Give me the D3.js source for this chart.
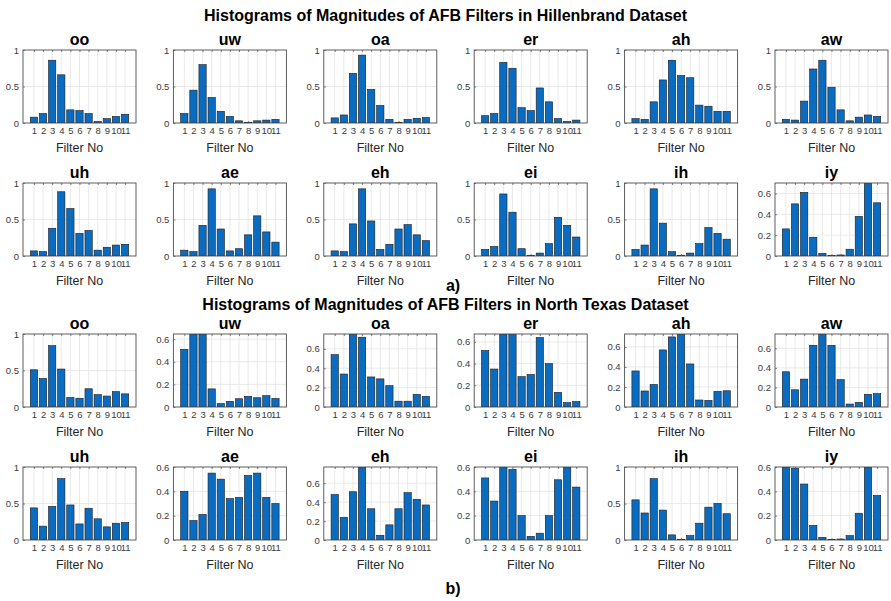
<!DOCTYPE html>
<html>
<head>
<meta charset="utf-8">
<script src="https://cdn.jsdelivr.net/npm/d3@7"></script>
<style>
  html, body { margin: 0; padding: 0; background: #fff; }
  svg { display: block; }
  text { font-family: "Liberation Sans", Arial, Helvetica, sans-serif; }
</style>
</head>
<body>
<svg id="chart" width="891" height="601"></svg>
<script>
// Vowel classes, one panel each (2 rows x 6 columns per dataset)
const vowels = ["oo", "uw", "oa", "er", "ah", "aw", "uh", "ae", "eh", "ei", "ih", "iy"];
const filterNos = [1, 2, 3, 4, 5, 6, 7, 8, 9, 10, 11];

// Normalised magnitude per AFB filter, Hillenbrand dataset
const hillenbrand = [
  [0.08, 0.13, 0.86, 0.66, 0.18, 0.17, 0.13, 0.02, 0.06, 0.09, 0.12], // oo
  [0.13, 0.45, 0.80, 0.35, 0.16, 0.09, 0.03, 0.01, 0.03, 0.04, 0.05], // uw
  [0.07, 0.11, 0.68, 0.93, 0.46, 0.24, 0.05, 0.01, 0.05, 0.065, 0.075], // oa
  [0.10, 0.13, 0.83, 0.75, 0.21, 0.17, 0.48, 0.29, 0.06, 0.02, 0.04], // er
  [0.06, 0.05, 0.29, 0.59, 0.86, 0.65, 0.62, 0.245, 0.23, 0.16, 0.16], // ah
  [0.05, 0.04, 0.30, 0.74, 0.86, 0.49, 0.18, 0.03, 0.08, 0.11, 0.09], // aw
  [0.07, 0.06, 0.38, 0.88, 0.65, 0.31, 0.35, 0.08, 0.12, 0.15, 0.16], // uh
  [0.08, 0.06, 0.42, 0.92, 0.37, 0.07, 0.10, 0.29, 0.55, 0.33, 0.19], // ae
  [0.07, 0.06, 0.44, 0.92, 0.48, 0.09, 0.16, 0.37, 0.43, 0.29, 0.21], // eh
  [0.09, 0.13, 0.85, 0.60, 0.10, 0.01, 0.04, 0.17, 0.53, 0.42, 0.26], // ei
  [0.09, 0.15, 0.92, 0.45, 0.06, 0.01, 0.04, 0.17, 0.39, 0.31, 0.23], // ih
  [0.26, 0.50, 0.61, 0.18, 0.026, 0.003, 0.01, 0.065, 0.38, 0.70, 0.51] // iy
];

// Normalised magnitude per AFB filter, North Texas dataset
const northTexas = [
  [0.51, 0.39, 0.84, 0.52, 0.13, 0.12, 0.25, 0.17, 0.15, 0.21, 0.18], // oo
  [0.51, 0.645, 0.645, 0.16, 0.03, 0.05, 0.073, 0.094, 0.082, 0.10, 0.076], // uw
  [0.54, 0.34, 0.753, 0.72, 0.31, 0.29, 0.22, 0.06, 0.06, 0.13, 0.11], // oa
  [0.52, 0.35, 0.673, 0.673, 0.28, 0.30, 0.64, 0.40, 0.135, 0.04, 0.05], // er
  [0.36, 0.16, 0.225, 0.57, 0.70, 0.729, 0.43, 0.07, 0.066, 0.156, 0.162], // ah
  [0.36, 0.176, 0.285, 0.63, 0.746, 0.63, 0.28, 0.03, 0.047, 0.13, 0.136], // aw
  [0.44, 0.19, 0.46, 0.84, 0.48, 0.22, 0.435, 0.29, 0.18, 0.23, 0.24], // uh
  [0.40, 0.16, 0.21, 0.55, 0.50, 0.34, 0.35, 0.53, 0.55, 0.35, 0.30], // ae
  [0.48, 0.24, 0.51, 0.771, 0.33, 0.05, 0.16, 0.33, 0.50, 0.43, 0.37], // eh
  [0.51, 0.32, 0.60, 0.58, 0.20, 0.03, 0.056, 0.20, 0.495, 0.60, 0.435], // ei
  [0.55, 0.37, 0.84, 0.41, 0.07, 0.01, 0.06, 0.23, 0.45, 0.50, 0.36], // ih
  [0.60, 0.59, 0.46, 0.12, 0.022, 0.005, 0.008, 0.036, 0.22, 0.60, 0.366] // iy
];

// Upper y-limit of every panel
const hillenbrandYMax = [1, 1, 1, 1, 1, 1, 1, 1, 1, 1, 1, 0.7];
const northTexasYMax = [1, 0.645, 0.753, 0.673, 0.729, 0.746, 1, 0.6, 0.771, 0.6, 1, 0.6];

// Y tick sets
const yTicksWide = [0, 0.5, 1];
const yTicksNarrow = [0, 0.2, 0.4, 0.6];

const titles = [
  "Histograms of Magnitudes of AFB Filters in Hillenbrand Dataset",
  "Histograms of Magnitudes of AFB Filters in North Texas Dataset"
];
const captions = ["a)", "b)"];

// ---------------- layout ----------------
const svg = d3.select("#chart");
const barColor = "#0a6cc0";
const axisColor = "#4d4d4d";
const gridColor = "#e3e3e3";
const tickColor = "#3a3a3a";

const colLeft0 = 23, colStep = 150.4, plotW = 113, plotH = 73;
const rowTops = [[50, 183], [334, 467]];
const titleY = [21, 310];
const captionY = [291, 594];

const datasets = [
  { values: hillenbrand, yMax: hillenbrandYMax },
  { values: northTexas, yMax: northTexasYMax }
];

datasets.forEach((ds, di) => {
  svg.append("text")
    .attr("x", 445.5).attr("y", titleY[di])
    .attr("text-anchor", "middle")
    .attr("font-size", 16).attr("font-weight", "bold")
    .attr("fill", "#000")
    .text(titles[di]);

  svg.append("text")
    .attr("x", 453).attr("y", captionY[di])
    .attr("text-anchor", "middle")
    .attr("font-size", 16).attr("font-weight", "bold")
    .attr("fill", "#000")
    .text(captions[di]);

  vowels.forEach((v, vi) => {
    const row = Math.floor(vi / 6), col = vi % 6;
    const left = colLeft0 + col * colStep;
    const top = rowTops[di][row];
    const yMax = ds.yMax[vi];
    const vals = ds.values[vi];

    const x = d3.scaleLinear().domain([-0.2, 12.2]).range([0, plotW]);
    const y = d3.scaleLinear().domain([0, yMax]).range([plotH, 0]);
    const yTicks = yMax > 0.8 ? yTicksWide : yTicksNarrow;

    const g = svg.append("g").attr("transform", `translate(${left},${top})`);
    const clipId = `clip-${di}-${vi}`;
    g.append("clipPath").attr("id", clipId)
      .append("rect").attr("width", plotW).attr("height", plotH);

    // grid
    g.append("g").selectAll("line").data(filterNos).join("line")
      .attr("x1", d => x(d)).attr("x2", d => x(d))
      .attr("y1", 0).attr("y2", plotH)
      .attr("stroke", gridColor).attr("stroke-width", 0.8);
    g.append("g").selectAll("line").data(yTicks.filter(t => t > 0 && t < yMax)).join("line")
      .attr("x1", 0).attr("x2", plotW)
      .attr("y1", d => y(d)).attr("y2", d => y(d))
      .attr("stroke", gridColor).attr("stroke-width", 0.8);

    // bars
    const bw = x(0.8) - x(0);
    g.append("g").attr("clip-path", `url(#${clipId})`)
      .selectAll("rect").data(vals).join("rect")
      .attr("x", (d, i) => x(filterNos[i]) - bw / 2)
      .attr("width", bw)
      .attr("y", d => y(d))
      .attr("height", d => plotH - y(d))
      .attr("fill", barColor)
      .attr("stroke", "#1c1c1c").attr("stroke-width", 0.6);

    // axes
    const xAxis = d3.axisBottom(x).tickValues(filterNos).tickSize(-2).tickPadding(4)
      .tickFormat(d3.format("d"));
    const xAxisTop = d3.axisTop(x).tickValues(filterNos).tickSize(-2).tickFormat("");
    const yAxis = d3.axisLeft(y).tickValues(yTicks).tickSize(-2).tickPadding(4)
      .tickFormat(d => d === 0 ? "0" : d3.format("~g")(d));

    const gx = g.append("g").attr("transform", `translate(0,${plotH})`).call(xAxis);
    const gxt = g.append("g").call(xAxisTop);
    const gy = g.append("g").call(yAxis);
    [gx, gxt, gy].forEach(a => {
      a.select(".domain").remove();
      a.selectAll(".tick line").attr("stroke", axisColor).attr("stroke-width", 0.7);
      a.selectAll(".tick text").attr("fill", tickColor).attr("font-size", 9.5)
        .attr("font-family", "'Liberation Sans', Arial, sans-serif");
    });

    // box
    g.append("rect").attr("width", plotW).attr("height", plotH)
      .attr("fill", "none").attr("stroke", axisColor).attr("stroke-width", 0.9);

    // panel title
    g.append("text")
      .attr("x", plotW / 2).attr("y", -5)
      .attr("text-anchor", "middle")
      .attr("font-size", 16).attr("font-weight", "bold")
      .attr("fill", "#000")
      .text(v);

    // x label
    g.append("text")
      .attr("x", plotW / 2).attr("y", plotH + 29)
      .attr("text-anchor", "middle")
      .attr("font-size", 12.5)
      .attr("fill", "#262626")
      .text("Filter No");
  });
});
</script>
</body>
</html>
